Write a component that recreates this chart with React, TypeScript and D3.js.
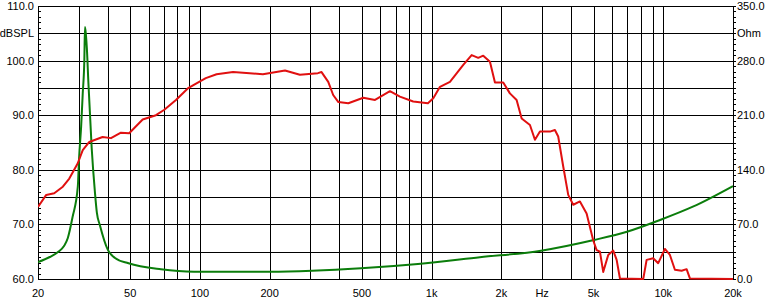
import React from "react";
import * as d3 from "d3";

// SPL curve (Hz, dB)
const splFreq = [20, 21.7, 23.5, 25.6, 27.3, 29.7, 31.2, 33.3, 38, 41.3, 45.6, 49.5, 56.6, 64.6, 70.2, 78.8, 88.6, 96.2, 106, 118, 139, 164, 187, 233, 270, 323, 335, 358, 376, 396, 437, 507, 570, 661, 730, 833, 964, 1017, 1087, 1200, 1370, 1489, 1590, 1671, 1786, 1877, 2038, 2178, 2328, 2448, 2658, 2793, 2936, 3242, 3406, 3520, 3700, 3889, 4087, 4368, 4668, 4984, 5156, 5329, 5506, 5787, 6083, 6292, 6502, 8194, 8476, 9048, 9510, 10164, 10684, 11228, 12002, 12610, 13032, 20000];
const splDb = [73.2, 75.4, 75.7, 76.9, 78.4, 81.2, 83.6, 85.1, 86.0, 85.8, 86.8, 86.7, 89.2, 90.0, 91.0, 92.8, 94.9, 95.8, 96.8, 97.5, 97.9, 97.7, 97.5, 98.2, 97.4, 97.7, 97.9, 96.1, 93.7, 92.4, 92.2, 93.2, 92.8, 94.4, 93.4, 92.5, 92.2, 93.1, 95.2, 96.1, 99.2, 101.0, 100.5, 100.9, 99.8, 96.0, 96.0, 94.0, 92.8, 89.4, 88.2, 85.5, 87.0, 87.0, 87.3, 86.1, 80.6, 75.4, 73.6, 74.2, 72.0, 67.1, 65.3, 65.0, 61.3, 64.4, 65.2, 63.5, 60.1, 60.0, 63.5, 63.8, 62.9, 65.5, 64.4, 61.7, 61.5, 61.8, 60.1, 60.0];

// Impedance curve (Hz, Ohm)
const impFreq = [20, 22.5, 24.4, 25.9, 26.9, 28.2, 29.7, 30.1, 30.7, 31.2, 31.7, 31.9, 32.2, 32.5, 33.0, 34.1, 35.2, 35.9, 37.0, 40.1, 43.0, 49.2, 67.9, 94.3, 201, 305, 496, 873, 1616, 2966, 5020, 6970, 9670, 13420, 20000];
const impOhm = [21.8, 28.2, 34.6, 42.3, 52.6, 79.5, 118, 156, 195, 238, 281, 323, 313, 296, 252, 168, 112, 85, 69, 37, 27, 20.1, 12.4, 9.4, 9.4, 10.6, 13.7, 19.2, 27.8, 36.3, 50, 60.6, 75.6, 92.7, 119.2];

const gridFreqs = [30, 40, 50, 60, 70, 80, 90, 100, 200, 300, 400, 500, 600, 700, 800, 900, 1000, 2000, 3000, 4000, 5000, 6000, 7000, 8000, 9000, 10000];
const xTickFreqs = [20, 50, 100, 200, 500, 1000, 2000, 3000, 5000, 10000, 20000];
const xTickLabels = ["20", "50", "100", "200", "500", "1k", "2k", "Hz", "5k", "10k", "20k"];
const dbLines = [60, 65, 70, 75, 80, 85, 90, 95, 100, 105, 110];
const leftLabels = ["60.0", "", "70.0", "", "80.0", "", "90.0", "", "100.0", "dBSPL", "110.0"];
const rightLabels = ["0.0", "", "70.0", "", "140.0", "", "210.0", "", "280.0", "Ohm", "350.0"];

export default function App() {
  const W = 768, H = 300;
  const L = 38, R = 733, T = 6, B = 279;
  const x = d3.scaleLog().domain([20, 20000]).range([L, R]);
  const y = d3.scaleLinear().domain([60, 110]).range([B, T]);
  const yR = d3.scaleLinear().domain([0, 350]).range([B, T]);
  const px = (v: number) => Math.round(v) + 0.5;

  const splLine = d3
    .line<number>()
    .x((_, i) => x(splFreq[i]))
    .y((d) => y(Math.max(60, d)));
  const impLine = d3
    .line<number>()
    .curve(d3.curveMonotoneX)
    .x((_, i) => x(impFreq[i]))
    .y((d) => yR(d));

  const minorTicks = d3.range(60, 111, 1);
  const font = "'Liberation Sans', Arial, sans-serif";

  return (
    <svg width={W} height={H} style={{ position: "absolute", left: 0, top: 0, background: "#fff" }}>
      <rect x={0} y={0} width={W} height={H} fill="#fff" />
      <defs>
        <clipPath id="plot">
          <rect x={L} y={T - 1} width={R - L} height={B - T + 2} />
        </clipPath>
      </defs>
      {dbLines.map((d) => (
        <line key={"h" + d} x1={L} x2={R} y1={px(y(d))} y2={px(y(d))} stroke="#000" strokeWidth={1} />
      ))}
      {gridFreqs.map((f) => (
        <line key={"v" + f} x1={px(x(f))} x2={px(x(f))} y1={T} y2={B} stroke="#000" strokeWidth={1} />
      ))}
      <rect x={L + 0.5} y={px(T)} width={R - L} height={Math.round(B) - Math.round(T)} fill="none" stroke="#000" strokeWidth={1} />
      {minorTicks.map((d) => (
        <g key={"t" + d}>
          <line x1={L} x2={L + 3} y1={px(y(d))} y2={px(y(d))} stroke="#000" strokeWidth={1} />
          <line x1={R} x2={R + 3} y1={px(y(d))} y2={px(y(d))} stroke="#000" strokeWidth={1} />
        </g>
      ))}
      <g clipPath="url(#plot)">
        <path d={impLine(impOhm) || ""} fill="none" stroke="#0b7d0b" strokeWidth={2} strokeLinejoin="round" />
        <path d={splLine(splDb) || ""} fill="none" stroke="#e01010" strokeWidth={2} strokeLinejoin="round" />
      </g>
      {dbLines.map((d, i) =>
        leftLabels[i] ? (
          <text key={"ll" + d} x={34} y={y(d) + 4} textAnchor="end" fontFamily={font} fontSize={11} fill="#000">
            {leftLabels[i]}
          </text>
        ) : null
      )}
      {dbLines.map((d, i) =>
        rightLabels[i] ? (
          <text key={"rl" + d} x={737} y={y(d) + 4} textAnchor="start" fontFamily={font} fontSize={11} fill="#000">
            {rightLabels[i]}
          </text>
        ) : null
      )}
      {xTickFreqs.map((f, i) => (
        <text key={"xl" + f} x={x(f)} y={297} textAnchor="middle" fontFamily={font} fontSize={11} fill="#000">
          {xTickLabels[i]}
        </text>
      ))}
    </svg>
  );
}
